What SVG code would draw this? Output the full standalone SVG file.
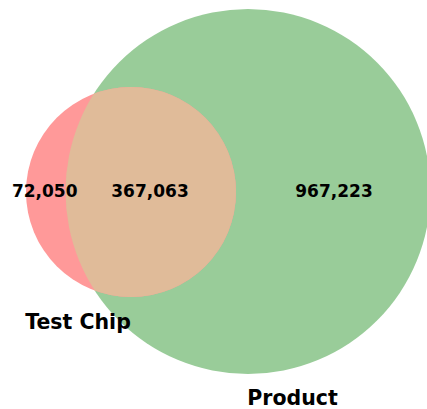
<svg xmlns="http://www.w3.org/2000/svg" width="427" height="409" viewBox="0 0 427 409">
<style>
.num{font-family:"DejaVu Sans",sans-serif;font-weight:bold;font-size:17px;text-anchor:middle;fill:#000}
.lbl{font-family:"DejaVu Sans",sans-serif;font-weight:bold;font-size:20.5px;text-anchor:middle;fill:#000}
</style>
<defs>
<clipPath id="redClip"><circle cx="131" cy="192" r="105"/></clipPath>
</defs>
<rect width="427" height="409" fill="#fff"/>
<g id="product">
<circle cx="248" cy="191.5" r="182.5" fill="#99cc99"/>
</g>
<g id="test-chip">
<circle cx="131" cy="192" r="105" fill="#ff9999"/>
</g>
<g id="overlap">
<circle cx="248" cy="191.5" r="182.5" fill="#e0bb99" clip-path="url(#redClip)"/>
</g>
<g id="connectors"></g>
<g id="labels">
<text class="num" x="44.7" y="197">72,050</text>
<text class="num" x="150" y="197">367,063</text>
<text class="num" x="334" y="197">967,223</text>
<text class="lbl" x="78" y="329">Test Chip</text>
<text class="lbl" x="292.5" y="405">Product</text>
</g>
</svg>
